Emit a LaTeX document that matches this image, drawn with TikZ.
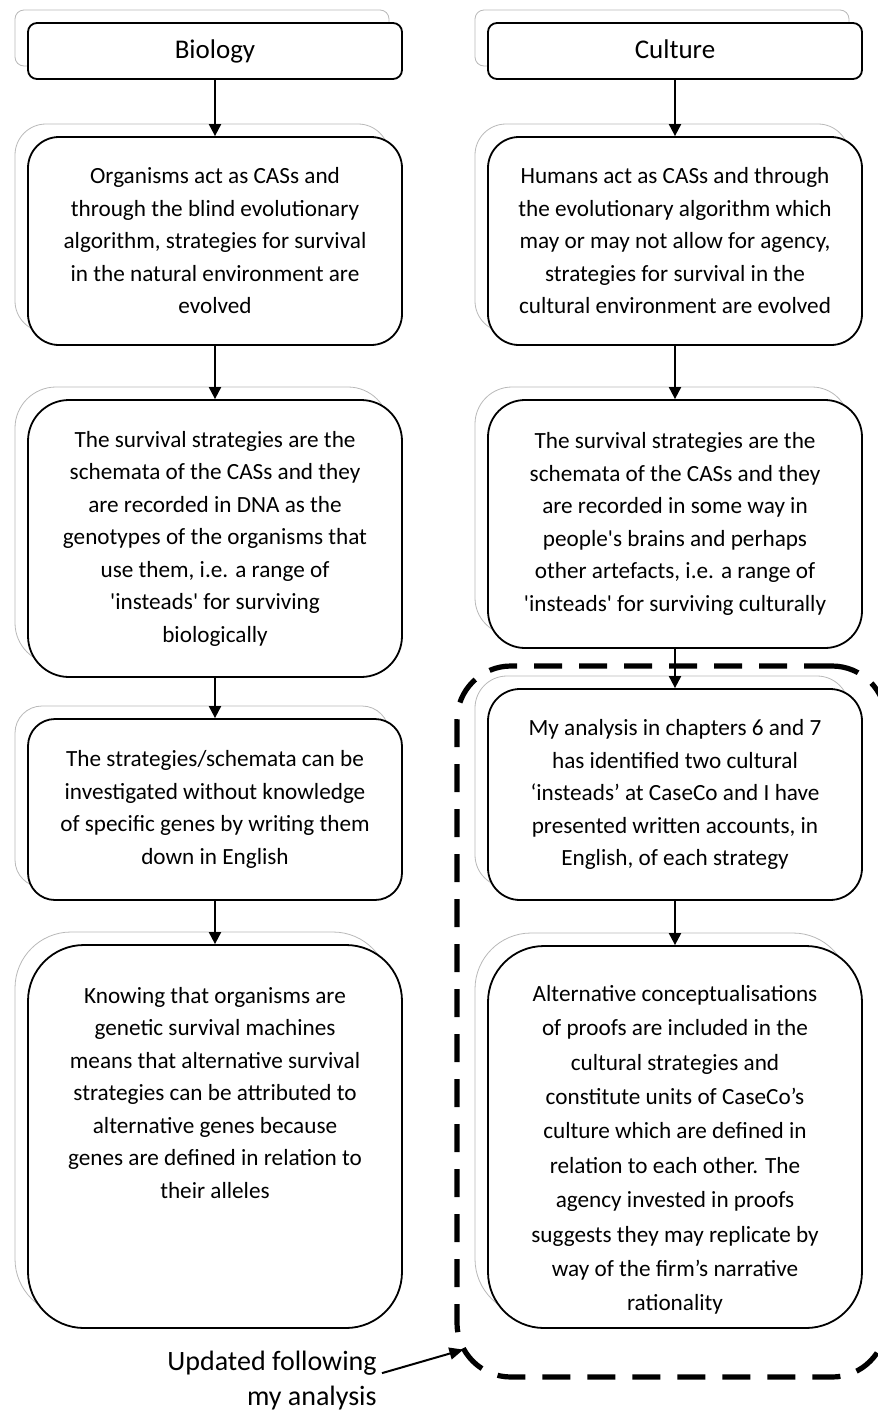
\documentclass[tikz,border=0pt]{standalone}
\usepackage{fontspec}
\setmainfont{Carlito}[Ligatures=TeXOff]
\usetikzlibrary{arrows.meta,shadows}

\begin{document}
\begin{tikzpicture}[
  x=0.5pt, y=-0.5pt,
  card/.style={draw, line width=0.9pt, fill=white, align=center,
    font=\fontsize{11.6}{16.25}\selectfont,
    general shadow={shadow xshift=-6.5pt, shadow yshift=6.5pt,
      draw=gray!55, line width=0.4pt, fill=white}},
  colhead/.style={card, minimum width=187pt, minimum height=28pt,
    rounded corners=4.5pt, font=\fontsize{13.5}{16}\selectfont,
    text height=9.5pt, text depth=2.5pt},
  flow/.style={line width=1pt, -{Triangle[length=6pt,width=6pt]}},
  updframe/.style={draw, line width=2.6pt, dash pattern=on 14pt off 8.5pt,
    rounded corners=27pt},
]
\useasboundingbox (0,0) rectangle (878,1414);
\def\lx{215}
\def\rx{675}

% ----- dashed frame round the updated boxes -----
\node[updframe, minimum width=214.5pt, minimum height=355.5pt] (upd) at (671.5,1021.5) {};

% ----- Biology column -----
\node[colhead] (bio) at (\lx,51) {Biology};
\node[card, minimum width=187pt, minimum height=104pt, rounded corners=15.5pt] (bioA) at (\lx,241)
  {Organisms act as CASs and\\through the blind evolutionary\\algorithm, strategies for survival\\in the natural environment are\\evolved};
\node[card, minimum width=187pt, minimum height=138.5pt, rounded corners=20.5pt] (bioB) at (\lx,538.5)
  {The survival strategies are the\\schemata of the CASs and they\\are recorded in DNA as the\\genotypes of the organisms that\\use them, i.e. a range of\\'insteads' for surviving\\biologically};
\node[card, minimum width=187pt, minimum height=90.5pt, rounded corners=13.5pt] (bioC) at (\lx,809.5)
  {The strategies/schemata can be\\investigated without knowledge\\of specific genes by writing them\\down in English};
\node[card, minimum width=187pt, minimum height=191.5pt, rounded corners=28pt] (bioD) at (\lx,1136.5)
  {Knowing that organisms are\\genetic survival machines\\means that alternative survival\\strategies can be attributed to\\alternative genes because\\genes are defined in relation to\\their alleles\\[27.5pt]\mbox{}};

% ----- Culture column -----
\node[colhead] (cul) at (\rx,51) {Culture};
\node[card, minimum width=187pt, minimum height=104pt, rounded corners=15.5pt] (culA) at (\rx,241)
  {Humans act as CASs and through\\the evolutionary algorithm which\\may or may not allow for agency,\\strategies for survival in the\\cultural environment are evolved};
\node[card, minimum width=187pt, minimum height=124pt, rounded corners=18.5pt] (culB) at (\rx,524)
  {The survival strategies are the\\schemata of the CASs and they\\are recorded in some way in\\people's brains and perhaps\\other artefacts, i.e. a range of\\'insteads' for surviving culturally};
\node[card, minimum width=187pt, minimum height=105.5pt, rounded corners=16pt] (culC) at (\rx,794.5)
  {My analysis in chapters 6 and 7\\has identified two cultural\\‘insteads’ at CaseCo and I have\\presented written accounts, in\\English, of each strategy};
\node[card, minimum width=187pt, minimum height=191pt, rounded corners=28pt,
  font=\fontsize{11.6}{17.2}\selectfont] (culD) at (\rx,1137)
  {\mbox{}\\[3.8pt]Alternative conceptualisations\\of proofs are included in the\\cultural strategies and\\constitute units of CaseCo’s\\culture which are defined in\\relation to each other. The\\agency invested in proofs\\suggests they may replicate by\\way of the firm’s narrative\\rationality};

% ----- arrows -----
\draw[flow] (bio) -- (bioA);
\draw[flow] (bioA) -- (bioB);
\draw[flow] (bioB) -- (bioC);
\draw[flow] (bioC) -- (bioD);
\draw[flow] (cul) -- (culA);
\draw[flow] (culA) -- (culB);
\draw[flow] (culB) -- (culC);
\draw[flow] (culC) -- (culD);

% ----- note -----
\node[font=\fontsize{14}{17.5}\selectfont, align=right, inner sep=0pt, anchor=east] (note) at (377,1381)
  {Updated following\\my analysis};
\draw[flow, -{Triangle[length=7pt,width=6pt]}] ([xshift=2.5pt,yshift=-11pt]note.north east)
  -- ([shift={(4.5pt,15pt)}]upd.south west);
\end{tikzpicture}
\end{document}
